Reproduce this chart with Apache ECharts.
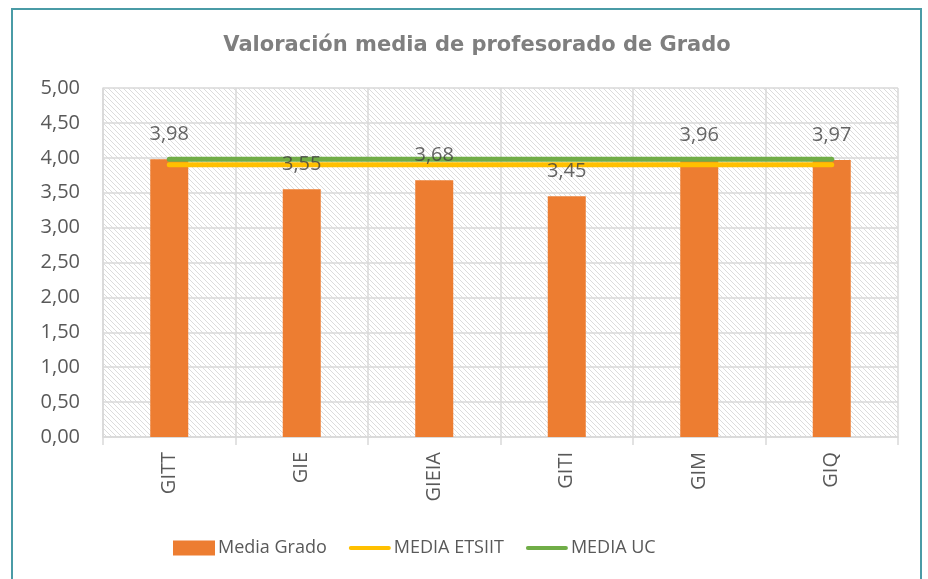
<!DOCTYPE html>
<html lang="es">
<head>
    <meta charset="UTF-8">
    <title>Valoración media de profesorado de Grado</title>
    <script src="https://cdn.jsdelivr.net/npm/echarts@6/dist/echarts.min.js"></script>
</head>
<style>
html,body{margin: 0;padding: 0;background: #fff}
#chartBox{width: 928px;height: 579px}
</style>
<body>
    <div id="chartBox"></div>
</body>
<script>
// datos
const grados = ['GITT', 'GIE', 'GIEIA', 'GITI', 'GIM', 'GIQ'];
const mediaGrado = [3.98, 3.55, 3.68, 3.45, 3.96, 3.97];
const mediaEtsiit = [3.90, 3.90, 3.90, 3.90, 3.90, 3.90];
const mediaUc = [3.98, 3.98, 3.98, 3.98, 3.98, 3.98];

// trama de rayas diagonales para el fondo del área de trazado
function hatchPattern(){
    const n = 5;
    const c = document.createElement('canvas');
    c.width = n; c.height = n;
    const ctx = c.getContext('2d');
    ctx.fillStyle = '#ffffff';
    ctx.fillRect(0, 0, n, n);
    ctx.strokeStyle = '#dcdcdc';
    ctx.lineWidth = 1;
    ctx.beginPath();
    ctx.moveTo(-1, -1); ctx.lineTo(n + 1, n + 1);
    ctx.moveTo(-1, n - 1); ctx.lineTo(1, n + 1);
    ctx.moveTo(n - 1, -1); ctx.lineTo(n + 1, 1);
    ctx.stroke();
    return {image: c, repeat: 'repeat'};
}

const fmt = v => v.toFixed(2).replace('.', ',');
const font = '"Open Sans", "Noto Sans", sans-serif';
const lineIcon = 'path://M2,0 L41,0 A2,2 0 0 1 41,4 L2,4 A2,2 0 0 1 2,0 Z';

let chartObj = echarts.init(document.getElementById('chartBox'));
chartObj.setOption({
    animation: false,
    textStyle: {fontFamily: font},
    title: {
        text: 'Valoración media de profesorado de Grado',
        left: 472,
        textAlign: 'center',
        top: 30,
        textStyle: {fontSize: 21, fontWeight: 'bold', color: '#7f7f7f', fontFamily: 'DejaVu Sans'}
    },
    graphic: [{
        type: 'rect',
        shape: {x: 12, y: 9, width: 909, height: 600},
        style: {fill: 'none', stroke: '#4a9ba6', lineWidth: 2},
        silent: true
    }],
    grid: {
        left: 103, right: 30, top: 88, bottom: 142,
        show: true,
        borderWidth: 0,
        backgroundColor: hatchPattern()
    },
    legend: {
        top: 534,
        left: 168,
        itemGap: 22,
        itemWidth: 42,
        itemHeight: 15,
        symbolKeepAspect: true,
        textStyle: {fontSize: 18, color: '#595959', padding: [0, 0, 0, -2]},
        data: [
            {name: 'Media Grado', icon: 'rect'},
            {name: 'MEDIA ETSIIT', icon: lineIcon},
            {name: 'MEDIA UC', icon: lineIcon}
        ]
    },
    xAxis: {
        type: 'category',
        data: grados,
        axisLine: {lineStyle: {color: '#d9d9d9', width: 1.5}},
        axisTick: {show: true, length: 8, lineStyle: {color: '#d9d9d9', width: 1.5}},
        splitLine: {show: true, lineStyle: {color: '#d9d9d9', width: 1.5}},
        axisLabel: {rotate: 90, fontSize: 20, color: '#595959', margin: 15}
    },
    yAxis: {
        type: 'value',
        min: 0, max: 5, interval: 0.5,
        axisLine: {show: true, lineStyle: {color: '#d9d9d9', width: 1.5}},
        splitLine: {lineStyle: {color: '#d9d9d9', width: 1.5}},
        axisLabel: {fontSize: 20, color: '#595959', margin: 23, formatter: fmt}
    },
    series: [
        {
            type: 'bar',
            name: 'Media Grado',
            data: mediaGrado,
            barWidth: 38,
            itemStyle: {color: '#ed7d31'},
            z: 2
        },
        {
            type: 'line',
            name: 'MEDIA ETSIIT',
            data: mediaEtsiit,
            symbol: 'none',
            lineStyle: {color: '#ffc000', width: 5, cap: 'round'},
            itemStyle: {color: '#ffc000'},
            z: 3
        },
        {
            type: 'line',
            name: 'MEDIA UC',
            data: mediaUc,
            symbol: 'none',
            lineStyle: {color: '#70ad47', width: 5, cap: 'round'},
            itemStyle: {color: '#70ad47'},
            z: 3
        },
        {
            // etiquetas de las barras, encima de las líneas
            type: 'scatter',
            name: 'etiquetas',
            data: mediaGrado,
            symbolSize: 0,
            silent: true,
            label: {
                show: true,
                position: 'top',
                distance: 15,
                fontSize: 20,
                color: '#404040',
                formatter: p => fmt(p.value)
            },
            z: 5
        }
    ]
});
</script>
</html>
